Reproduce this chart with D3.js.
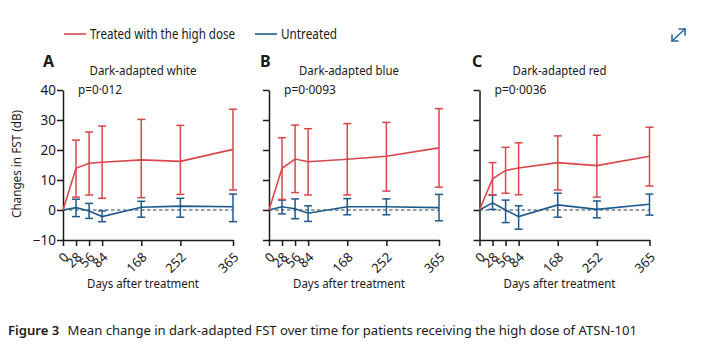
<!DOCTYPE html>
<html><head><meta charset="utf-8">
<script src="https://cdn.jsdelivr.net/npm/d3@7"></script>
<style>
html,body{margin:0;padding:0;background:#fff;}
text{font-family:"Noto Sans","Open Sans",sans-serif;fill:#1a1a1a;}
</style></head>
<body><svg id="c" width="727" height="356"></svg>
<script>
// ---- data ----
const days = [0, 28, 56, 84, 168, 252, 365];
const yTicks = [-10, 0, 10, 20, 30, 40];
const panelLetters = ["A", "B", "C"];
const panelTitles = ["Dark-adapted white", "Dark-adapted blue", "Dark-adapted red"];
const pValues = ["p=0·012", "p=0·0093", "p=0·0036"];
const seriesNames = ["Treated with the high dose", "Untreated"];

const treatedMeanA  = [0, 13.9, 15.6, 15.9, 16.7, 16.2, 20.2];
const treatedLowA   = [0, 4.3, 5.0, 3.9, 4.1, 5.2, 6.7];
const treatedHighA  = [0, 23.3, 26.0, 28.0, 30.2, 28.2, 33.6];
const untreatedMeanA = [0, 0.8, -0.3, -2.2, 0.9, 1.3, 1.1];
const untreatedLowA  = [0, -2.2, -2.8, -3.9, -2.4, -2.4, -3.9];
const untreatedHighA = [0, 3.6, 2.2, -0.3, 2.9, 3.9, 5.3];

const treatedMeanB  = [0, 13.9, 17.0, 16.1, 16.9, 17.9, 20.7];
const treatedLowB   = [0, 3.5, 5.8, 5.0, 5.0, 6.3, 7.6];
const treatedHighB  = [0, 24.1, 28.3, 27.1, 28.8, 29.2, 33.8];
const untreatedMeanB = [0, 1.1, 0.4, -1.1, 1.1, 1.1, 0.8];
const untreatedLowB  = [0, -1.3, -2.9, -3.8, -1.6, -1.6, -3.6];
const untreatedHighB = [0, 3.3, 3.7, 1.4, 3.8, 3.7, 5.2];

const treatedMeanC  = [0, 10.4, 13.2, 14.0, 15.8, 14.8, 17.9];
const treatedLowC   = [0, 5.0, 5.6, 5.1, 6.7, 4.3, 8.0];
const treatedHighC  = [0, 15.8, 20.9, 22.4, 24.7, 24.9, 27.6];
const untreatedMeanC = [0, 2.4, 0.0, -2.2, 1.7, 0.2, 1.9];
const untreatedLowC  = [0, 0.2, -4.2, -6.4, -2.4, -2.6, -1.7];
const untreatedHighC = [0, 5.0, 3.3, 1.4, 5.6, 3.0, 5.3];

const caption = "Mean change in dark-adapted FST over time for patients receiving the high dose of ATSN-101";

// ---- layout ----
const RED = "#d9474b", BLUE = "#1d5a8c", AX = "#1a1a1a";
const svg = d3.select("#c");
const panels = [
  {x0: 63, letterX: 43, t: [treatedMeanA, treatedLowA, treatedHighA], u: [untreatedMeanA, untreatedLowA, untreatedHighA]},
  {x0: 269, letterX: 260, t: [treatedMeanB, treatedLowB, treatedHighB], u: [untreatedMeanB, untreatedLowB, untreatedHighB]},
  {x0: 479.5, letterX: 472, t: [treatedMeanC, treatedLowC, treatedHighC], u: [untreatedMeanC, untreatedLowC, untreatedHighC]}
];
const y = d3.scaleLinear().domain([-10, 40]).range([240, 90]);

function fit(sel, w) {
  const n = sel.node();
  const cw = n.getComputedTextLength();
  if (Math.abs(cw - w) > 1) sel.attr("textLength", w).attr("lengthAdjust", "spacingAndGlyphs");
  return sel;
}

// legend
const leg = svg.append("g");
leg.append("line").attr("x1", 64).attr("x2", 86).attr("y1", 34).attr("y2", 34).attr("stroke", RED).attr("stroke-width", 1.6);
fit(leg.append("text").attr("x", 90).attr("y", 39).attr("font-size", 13.5).text(seriesNames[0]), 145);
leg.append("line").attr("x1", 255).attr("x2", 277).attr("y1", 34).attr("y2", 34).attr("stroke", BLUE).attr("stroke-width", 1.6);
fit(leg.append("text").attr("x", 281).attr("y", 39).attr("font-size", 13.5).text(seriesNames[1]), 56);

// expand icon
const ic = svg.append("g").attr("stroke", "#2a6aa0").attr("stroke-width", 1.6).attr("fill", "none").attr("stroke-linecap", "round");
ic.append("line").attr("x1", 672).attr("y1", 41).attr("x2", 685).attr("y2", 29);
ic.append("polyline").attr("points", "672,35 672,41 678,41");
ic.append("polyline").attr("points", "679,29 685,29 685,35");

panels.forEach((p, i) => {
  const x = d3.scaleLinear().domain([0, 365]).range([p.x0, p.x0 + 170]);
  const g = svg.append("g");
  // letter + title + p
  g.append("text").attr("x", p.letterX).attr("y", 67).attr("font-size", 16).attr("font-weight", "bold").text(panelLetters[i]);
  const tw = [107, 100, 94][i];
  fit(g.append("text").attr("x", p.x0 + 80).attr("y", 75).attr("text-anchor", "middle").attr("font-size", 12.5).text(panelTitles[i]), tw);
  fit(g.append("text").attr("x", p.x0 + 15).attr("y", 94).attr("font-size", 12.5).text(pValues[i]), [44, 52, 52][i]);

  // y axis
  const ya = g.append("g").attr("transform", `translate(${p.x0},0)`)
    .call(d3.axisLeft(y).tickValues(yTicks).tickSize(6).tickSizeOuter(0).tickFormat(i === 0 ? d => d === -10 ? "−10" : d : ""));
  ya.select(".domain").attr("stroke", AX).attr("stroke-width", 1.5);
  ya.selectAll(".tick line").attr("stroke", AX).attr("stroke-width", 1.5);
  ya.selectAll(".tick text").attr("font-size", 13.5).attr("font-family", '"Noto Sans",sans-serif').attr("fill", "#1a1a1a").attr("x", -7);

  // x axis
  const xa = g.append("g").attr("transform", `translate(0,240)`)
    .call(d3.axisBottom(x).tickValues(days).tickSize(6).tickSizeOuter(0));
  xa.select(".domain").attr("stroke", AX).attr("stroke-width", 1.5);
  xa.selectAll(".tick line").attr("stroke", AX).attr("stroke-width", 1.5);
  xa.selectAll(".tick text").attr("font-size", 13).attr("font-family", '"Noto Sans",sans-serif').attr("fill", "#1a1a1a")
    .attr("text-anchor", "end").attr("dy", null).attr("y", null)
    .attr("transform", "translate(6,18) rotate(-45)");

  // x title
  fit(g.append("text").attr("x", p.x0 + 80).attr("y", 288).attr("text-anchor", "middle").attr("font-size", 13).text("Days after treatment"), 112);

  // zero reference
  g.append("line").attr("x1", x(0)).attr("x2", x(365)).attr("y1", y(0)).attr("y2", y(0))
    .attr("stroke", "#2b3a4a").attr("stroke-width", 1).attr("stroke-dasharray", "3.5,2.5");

  const series = [[p.u, BLUE], [p.t, RED]];
  series.forEach(([s, col]) => {
    const [m, lo, hi] = s;
    const pts = days.map((d, k) => ({d, m: m[k], lo: lo[k], hi: hi[k]}));
    const eb = g.append("g").attr("stroke", col).attr("stroke-width", 1.5);
    pts.filter(q => q.d > 0).forEach(q => {
      eb.append("line").attr("x1", x(q.d)).attr("x2", x(q.d)).attr("y1", y(q.lo)).attr("y2", y(q.hi));
      eb.append("line").attr("x1", x(q.d) - 4).attr("x2", x(q.d) + 4).attr("y1", y(q.lo)).attr("y2", y(q.lo));
      eb.append("line").attr("x1", x(q.d) - 4).attr("x2", x(q.d) + 4).attr("y1", y(q.hi)).attr("y2", y(q.hi));
    });
    g.append("path").datum(pts).attr("fill", "none").attr("stroke", col).attr("stroke-width", 1.6)
      .attr("d", d3.line().x(q => x(q.d)).y(q => y(q.m)));
  });
});

// y label
fit(svg.append("text").attr("transform", "translate(21,164) rotate(-90)").attr("text-anchor", "middle").attr("font-size", 12.5).text("Changes in FST (dB)"), 108);

// caption
const cap = svg.append("text").attr("x", 8).attr("y", 335).attr("font-size", 12.5);
cap.append("tspan").attr("font-weight", "600").text("Figure 3");
cap.append("tspan").attr("dx", 8).text(caption);
fit(cap, 629);
</script></body></html>
